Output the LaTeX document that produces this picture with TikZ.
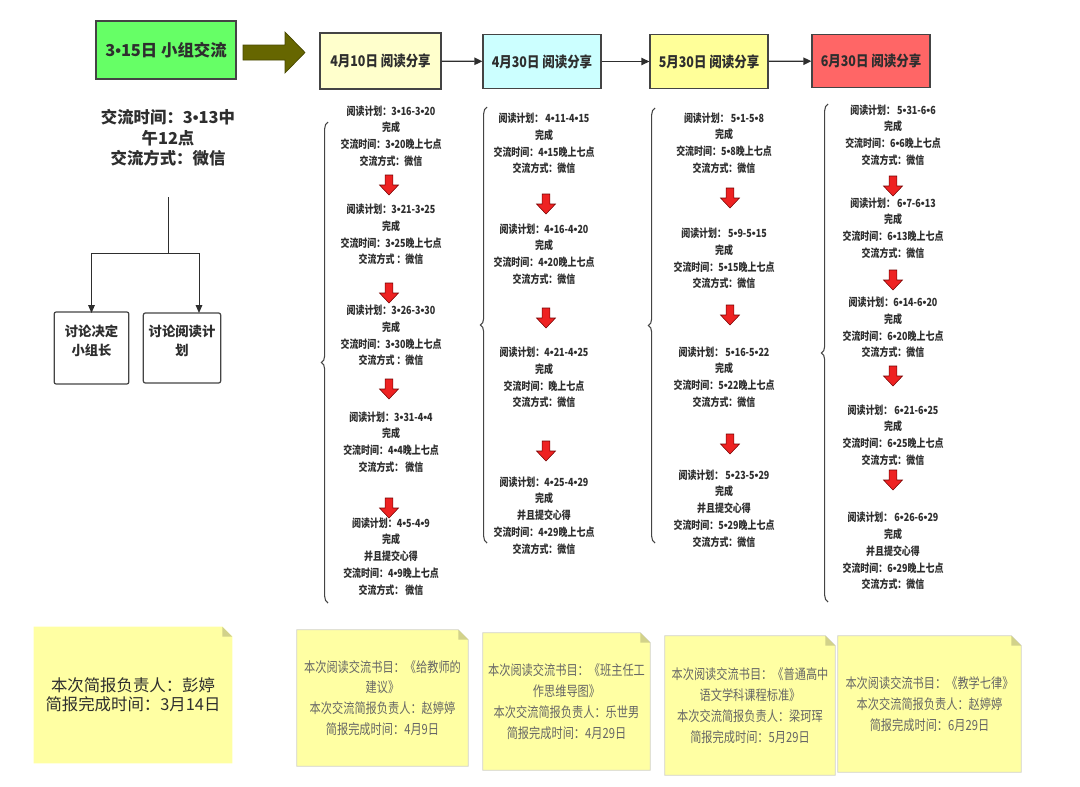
\documentclass[tikz,border=0pt]{standalone}
\usepackage{fontspec}
\setmainfont{Noto Sans CJK SC}
\newfontfamily\cnc{Noto Sans CJK SC}[FakeStretch=0.8]
\newfontfamily\cnh{Noto Sans CJK SC}[FakeStretch=0.85]
\newfontfamily\lsans{Liberation Sans}
\newcommand\dt{{\lsans •}}
\usetikzlibrary{arrows.meta,decorations.pathreplacing,backgrounds}
\definecolor{txt}{HTML}{2E2E2E}
\definecolor{notetxt}{HTML}{666666}
\definecolor{edge}{HTML}{444444}
\definecolor{gbox}{HTML}{66FF66}
\definecolor{hA}{HTML}{FFFFCC}
\definecolor{hB}{HTML}{CCFFFF}
\definecolor{hC}{HTML}{FFFF99}
\definecolor{hD}{HTML}{FF6666}
\definecolor{olivearr}{HTML}{666600}
\definecolor{notey}{HTML}{FFFFA3}
\definecolor{notefold}{HTML}{D2D28A}
\definecolor{redarr}{HTML}{EE2222}
\begin{document}
\begin{tikzpicture}[x=0.75pt,y=-0.75pt,
  hbox/.style={draw=edge,line width=0.9pt,text=txt,font=\cnh\bfseries\fontsize{11pt}{13pt}\selectfont,minimum width=88.5pt,minimum height=40pt,inner sep=0pt},
  coltext/.style={text=txt,align=center,inner sep=0pt,font=\cnc\bfseries\fontsize{8.4pt}{12.6pt}\selectfont},
  sbox/.style={draw=edge,line width=0.9pt,rounded corners=1.5pt,fill=white,minimum width=56pt,minimum height=54pt,inner sep=0pt},
  sboxtext/.style={text=txt,align=center,inner sep=0pt,font=\bfseries\fontsize{10pt}{14pt}\selectfont},
  link/.style={draw=txt,line width=0.9pt,-{Triangle[length=6pt,width=5.5pt]}},
  tree/.style={draw=txt,line width=0.75pt},
  brc/.style={draw=edge,line width=0.8pt,decorate,decoration={brace,amplitude=5pt}},
  note/.style={inner sep=0pt,align=center,text=notetxt,font=\cnc\fontsize{10.5pt}{15.6pt}\selectfont},
  redarrow/.pic={\draw[fill=redarr,draw=red!45!black,line width=0.4pt] (-3.8,-10) -- (3.8,-10) -- (3.8,0) -- (9.5,0) -- (0,10) -- (-9.5,0) -- (-3.8,0) -- cycle;}
]
\useasboundingbox (0,0) rectangle (1080,786);

% start box and info
\node[draw=edge,line width=0.9pt,fill=gbox,minimum width=105pt,minimum height=43.5pt,inner sep=0pt,text=txt,font=\bfseries\fontsize{12.3pt}{14pt}\selectfont] (start) at (166,50) {3\dt15日 小组交流};
\node[text=txt,align=center,inner sep=0pt,font=\bfseries\fontsize{12.3pt}{15.4pt}\selectfont] (info) at (168,138) {交流时间：3\dt13中\\午12点\\交流方式：微信};
\fill[olivearr,draw=olivearr!70!black,line width=0.5pt] (243,45) -- (285,45) -- (285,32) -- (305,52.5) -- (285,73) -- (285,60) -- (243,60) -- cycle;

% sub boxes
\node[sbox] (b1) at (91.5,348) {};
\node[sboxtext] (b1t) at (91.5,341) {讨论决定\\小组长};
\node[sbox,minimum width=58pt,minimum height=52.5pt] (b2) at (182,348) {};
\node[sboxtext] (b2t) at (182,341) {讨论阅读计\\划};
\coordinate (tstart) at (168,197);
\coordinate (junc) at (168,253);
\coordinate (b1in) at (91.5,313);
\coordinate (b2in) at (199,313);
\draw[tree] (tstart) -- (junc);
\draw[tree,-{Triangle[length=6pt,width=5pt]}] (junc) -| (b1in);
\draw[tree,-{Triangle[length=6pt,width=5pt]}] (junc) -| (b2in);

% header boxes
\node[hbox,fill=hA,minimum width=90.75pt,minimum height=42pt] (hA) at (380.5,61) {4月10日 阅读分享};
\node[hbox,fill=hB] (hB) at (542,61.5) {4月30日 阅读分享};
\node[hbox,fill=hC] (hC) at (709,61.5) {5月30日 阅读分享};
\node[hbox,fill=hD] (hD) at (871,61) {6月30日 阅读分享};
\draw[link] (hA) -- (hB);
\draw[link] (hB) -- (hC);
\draw[link] (hC) -- (hD);

% column 1
\node[coltext] (c1a) at (391,136) {阅读计划：3\dt16-3\dt20\\完成\\交流时间：3\dt20晚上七点\\交流方式：微信};
\node[coltext] (c1b) at (391,234.5) {阅读计划：3\dt21-3\dt25\\完成\\交流时间：3\dt25晚上七点\\交流方式 ：微信};
\node[coltext] (c1c) at (391,335.5) {阅读计划：3\dt26-3\dt30\\完成\\交流时间：3\dt30晚上七点\\交流方式 ：微信};
\node[coltext] (c1d) at (391,442) {阅读计划：3\dt31-4\dt4\\完成\\交流时间：4\dt4晚上七点\\交流方式： 微信};
\node[coltext] (c1e) at (391,556.5) {阅读计划：4\dt5-4\dt9\\完成\\并且提交心得\\交流时间：4\dt9晚上七点\\交流方式： 微信};
\pic at (389,185) {redarrow};
\pic at (389,293) {redarrow};
\pic at (389,389) {redarrow};
\pic at (389,508) {redarrow};
\coordinate (br1b) at (328,603);
\coordinate (br1t) at (328,122);
\draw[brc] (br1b) -- (br1t);

% column 2
\node[coltext] (c2a) at (544,143.5) {阅读计划： 4\dt11-4\dt15\\完成\\交流时间：4\dt15晚上七点\\交流方式：微信};
\node[coltext] (c2b) at (544,254) {阅读计划：4\dt16-4\dt20\\完成\\交流时间：4\dt20晚上七点\\交流方式：微信};
\node[coltext] (c2c) at (544,377.5) {阅读计划：4\dt21-4\dt25\\完成\\交流时间：晚上七点\\交流方式：微信};
\node[coltext] (c2d) at (544,515.5) {阅读计划：4\dt25-4\dt29\\完成\\并且提交心得\\交流时间：4\dt29晚上七点\\交流方式：微信};
\pic at (546,204) {redarrow};
\pic at (546,318) {redarrow};
\pic at (546,451) {redarrow};
\coordinate (br2b) at (487,543);
\coordinate (br2t) at (487,107);
\draw[brc] (br2b) -- (br2t);

% column 3
\node[coltext] (c3a) at (724,143) {阅读计划： 5\dt1-5\dt8\\完成\\交流时间：5\dt8晚上七点\\交流方式：微信};
\node[coltext] (c3b) at (724,258.5) {阅读计划： 5\dt9-5\dt15\\完成\\交流时间：5\dt15晚上七点\\交流方式：微信};
\node[coltext] (c3c) at (724,377) {阅读计划： 5\dt16-5\dt22\\完成\\交流时间：5\dt22晚上七点\\交流方式：微信};
\node[coltext] (c3d) at (724,508.5) {阅读计划： 5\dt23-5\dt29\\完成\\并且提交心得\\交流时间：5\dt29晚上七点\\交流方式：微信};
\pic at (730,198) {redarrow};
\pic at (730,315) {redarrow};
\pic at (730,444) {redarrow};
\coordinate (br3b) at (655,543);
\coordinate (br3t) at (655,108);
\draw[brc] (br3b) -- (br3t);

% column 4
\node[coltext] (c4a) at (893,135) {阅读计划： 5\dt31-6\dt6\\完成\\交流时间：6\dt6晚上七点\\交流方式：微信};
\node[coltext] (c4b) at (893,228) {阅读计划： 6\dt7-6\dt13\\完成\\交流时间：6\dt13晚上七点\\交流方式：微信};
\node[coltext] (c4c) at (893,327.5) {阅读计划：6\dt14-6\dt20\\完成\\交流时间：6\dt20晚上七点\\交流方式：微信};
\node[coltext] (c4d) at (893,435) {阅读计划： 6\dt21-6\dt25\\完成\\交流时间：6\dt25晚上七点\\交流方式：微信};
\node[coltext] (c4e) at (893,551) {阅读计划： 6\dt26-6\dt29\\完成\\并且提交心得\\交流时间：6\dt29晚上七点\\交流方式：微信};
\pic at (893,186) {redarrow};
\pic at (893,280) {redarrow};
\pic at (893,376) {redarrow};
\pic at (893,480) {redarrow};
\coordinate (br4b) at (828,602);
\coordinate (br4t) at (828,104);
\draw[brc] (br4b) -- (br4t);

% notes
\node[note,text=txt,font=\fontsize{12.3pt}{14.6pt}\selectfont,minimum width=148.5pt,minimum height=102pt] (n0) at (133,695) {本次简报负责人：彭婷\\简报完成时间：3月14日};
\node[note,minimum width=128.25pt,minimum height=102pt] (n1) at (382.5,698) {本次阅读交流书目：《给教师的\\建议》\\本次交流简报负责人：赵婷婷\\简报完成时间：4月9日};
\node[note,minimum width=125.25pt,minimum height=102.75pt] (n2) at (566.5,701.5) {本次阅读交流书目：《班主任工\\作思维导图》\\本次交流简报负责人：乐世男\\简报完成时间：4月29日};
\node[note,minimum width=127.5pt,minimum height=104.25pt] (n3) at (750,705.5) {本次阅读交流书目：《普通高中\\语文学科课程标准》\\本次交流简报负责人：梁珂珲\\简报完成时间：5月29日};
\node[note,minimum width=137.25pt,minimum height=102pt] (n4) at (929.5,704) {本次阅读交流书目：《教学七律》\\本次交流简报负责人：赵婷婷\\简报完成时间：6月29日};
\begin{pgfonlayer}{background}
\foreach \n/\bd in {n0/none,n1/black!18,n2/black!18,n3/black!18,n4/black!18}{
  \filldraw[fill=notey,draw=\bd,line width=0.5pt] (\n.south west) -- (\n.north west) -- ([xshift=-7.5pt]\n.north east) -- ([yshift=-7.5pt]\n.north east) -- (\n.south east) -- cycle;
  \fill[notefold] ([xshift=-7.5pt]\n.north east) -- ([xshift=-7.5pt,yshift=-7.5pt]\n.north east) -- ([yshift=-7.5pt]\n.north east) -- cycle;
}
\end{pgfonlayer}
\end{tikzpicture}
\end{document}
